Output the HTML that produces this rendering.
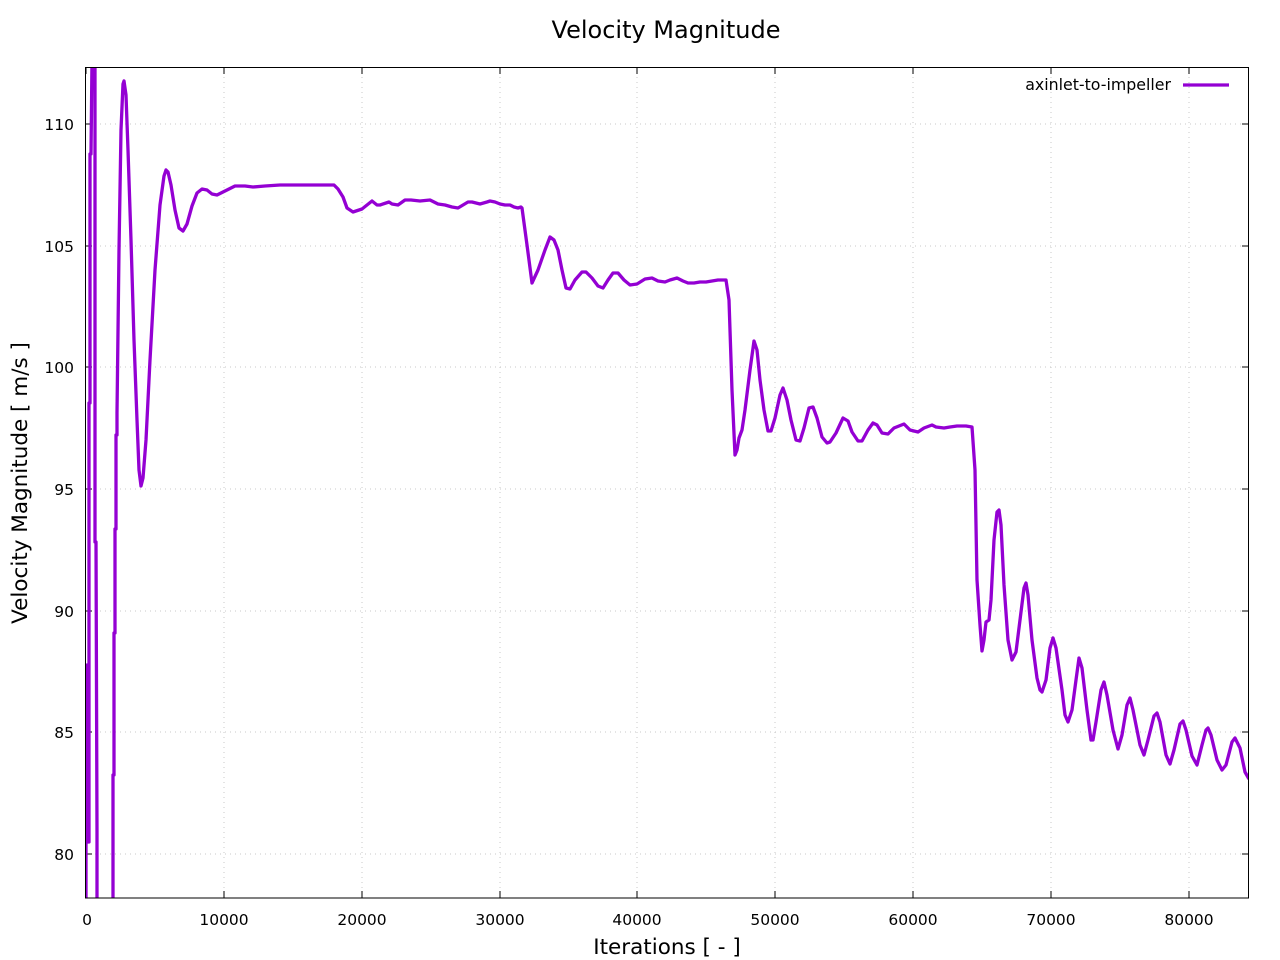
<!DOCTYPE html>
<html><head><meta charset="utf-8"><style>
html,body{margin:0;padding:0;background:#fff}
svg{display:block}
text{font-family:"DejaVu Sans","Liberation Sans",sans-serif;fill:#000}
</style></head><body>
<svg width="1280" height="960" xmlns="http://www.w3.org/2000/svg">
<rect width="1280" height="960" fill="#fff"/>
<g stroke="#c8c8c8" stroke-width="1" stroke-dasharray="1,4">
<line x1="224" y1="67" x2="224" y2="898"/><line x1="362" y1="67" x2="362" y2="898"/>
<line x1="500" y1="67" x2="500" y2="898"/><line x1="637" y1="67" x2="637" y2="898"/>
<line x1="775" y1="67" x2="775" y2="898"/><line x1="913" y1="67" x2="913" y2="898"/>
<line x1="1051" y1="67" x2="1051" y2="898"/><line x1="1189" y1="67" x2="1189" y2="898"/>
<line x1="85" y1="124" x2="1249" y2="124"/><line x1="85" y1="246" x2="1249" y2="246"/>
<line x1="85" y1="367" x2="1249" y2="367"/><line x1="85" y1="489" x2="1249" y2="489"/>
<line x1="85" y1="611" x2="1249" y2="611"/><line x1="85" y1="732" x2="1249" y2="732"/>
<line x1="85" y1="854" x2="1249" y2="854"/>
</g>
<g stroke="#000" stroke-width="1">
<path d="M86,898v-7M224,898v-7M362,898v-7M500,898v-7M637,898v-7M775,898v-7M913,898v-7M1051,898v-7M1189,898v-7
M86,67v7M224,67v7M362,67v7M500,67v7M637,67v7M775,67v7M913,67v7M1051,67v7M1189,67v7
M85,124h7M85,246h7M85,367h7M85,489h7M85,611h7M85,732h7M85,854h7
M1249,124h-7M1249,246h-7M1249,367h-7M1249,489h-7M1249,611h-7M1249,732h-7M1249,854h-7"/>
</g>
<g font-size="15.5" text-anchor="end">
<text x="74" y="130">110</text><text x="74" y="252">105</text><text x="74" y="373">100</text>
<text x="74" y="495">95</text><text x="74" y="617">90</text><text x="74" y="738">85</text><text x="74" y="860">80</text>
</g>
<g font-size="15.5" text-anchor="middle">
<text x="87" y="925">0</text><text x="224" y="925">10000</text><text x="362" y="925">20000</text>
<text x="500" y="925">30000</text><text x="637" y="925">40000</text><text x="775" y="925">50000</text>
<text x="913" y="925">60000</text><text x="1051" y="925">70000</text><text x="1189" y="925">80000</text>
</g>
<text x="666" y="38" font-size="24" text-anchor="middle">Velocity Magnitude</text>
<text x="667" y="954" font-size="21.5" text-anchor="middle">Iterations [ - ]</text>
<text transform="translate(27,483) rotate(-90)" font-size="21.5" text-anchor="middle">Velocity Magnitude [ m/s ]</text>
<text x="1171" y="90" font-size="15.8" text-anchor="end">axinlet-to-impeller</text>
<line x1="1183" y1="85" x2="1229" y2="85" stroke="#9400d3" stroke-width="3.2"/>
<svg x="85" y="67" width="1164" height="831" viewBox="85 67 1164 831" overflow="hidden">
<polyline fill="none" stroke="#9400d3" stroke-width="3.3" stroke-linejoin="round" points="
86,900 86,708 87,708 87,665 88,665 88,842 89,842 89,403 90,403 90,154 91,154 92,60 95,60 95,542 96,542 97,831 97,900
113,900 113,775 114,775 114,633 115,633 115,529 116,529 116,435 117,435 117,413 119,250 121,130 123,84 124,81 126,95 128,150 131,240 134,340 137,420 139,470 141,486 143,478 146,440 150,360 155,270 160,205 164,176 166,170 168,172 171,185 175,210 179,228 183,231 187,224 192,206 197,193 202,189 207,190 212,194 217,195 225,191 235,186 245,186 253,187 265,186 280,185 300,185 320,185 334,185 338,189 343,197 347,208 353,212 362,209 372,201 377,205 380,205 389,202 392,204 398,205 405,200 411,200 420,201 430,200 438,204 445,205 452,207 458,208 463,205 468,202 472,202 480,204 487,202 490,201 495,202 500,204 505,205 510,205 514,207 518,208 521,207 522,208 527,245 532,283 538,270 545,250 550,237 554,240 558,250 562,270 566,288 570,289 575,280 582,272 586,272 592,278 598,286 603,288 608,280 613,273 618,273 624,280 630,285 637,284 645,279 652,278 658,281 665,282 670,280 677,278 683,281 688,283 694,283 700,282 706,282 712,281 718,280 723,280 726,280 729,300 732,390 735,455 737,450 739,438 742,430 745,410 750,370 754,341 757,350 760,380 764,410 768,431 771,431 775,418 780,395 783,388 787,400 791,420 796,440 800,441 804,428 809,408 813,407 817,418 822,437 827,443 830,442 836,433 843,418 848,421 852,432 858,441 862,441 868,430 873,423 877,425 882,433 888,434 894,428 904,424 910,430 918,432 924,428 932,425 936,427 944,428 950,427 957,426 966,426 972,427 975,470 977,580 980,625 982,651 984,640 986,622 989,620 991,600 994,540 997,512 999,510 1001,525 1004,585 1008,640 1012,660 1016,652 1020,620 1024,588 1026,583 1028,595 1032,640 1037,678 1040,690 1042,692 1046,680 1050,648 1053,638 1056,648 1062,690 1065,715 1068,722 1072,710 1076,680 1079,658 1082,668 1087,710 1091,740 1093,740 1096,722 1101,690 1104,682 1107,695 1113,730 1118,749 1122,735 1127,705 1130,698 1133,710 1140,745 1144,755 1148,740 1154,716 1157,713 1160,722 1166,755 1170,764 1174,750 1180,724 1183,721 1186,730 1192,756 1197,765 1202,745 1206,730 1208,728 1211,735 1217,760 1222,770 1226,765 1232,742 1235,738 1240,748 1245,772 1249,779"/>
</svg>
<rect x="85.5" y="67.5" width="1163" height="830.5" fill="none" stroke="#000" stroke-width="1"/>
</svg>
</body></html>
